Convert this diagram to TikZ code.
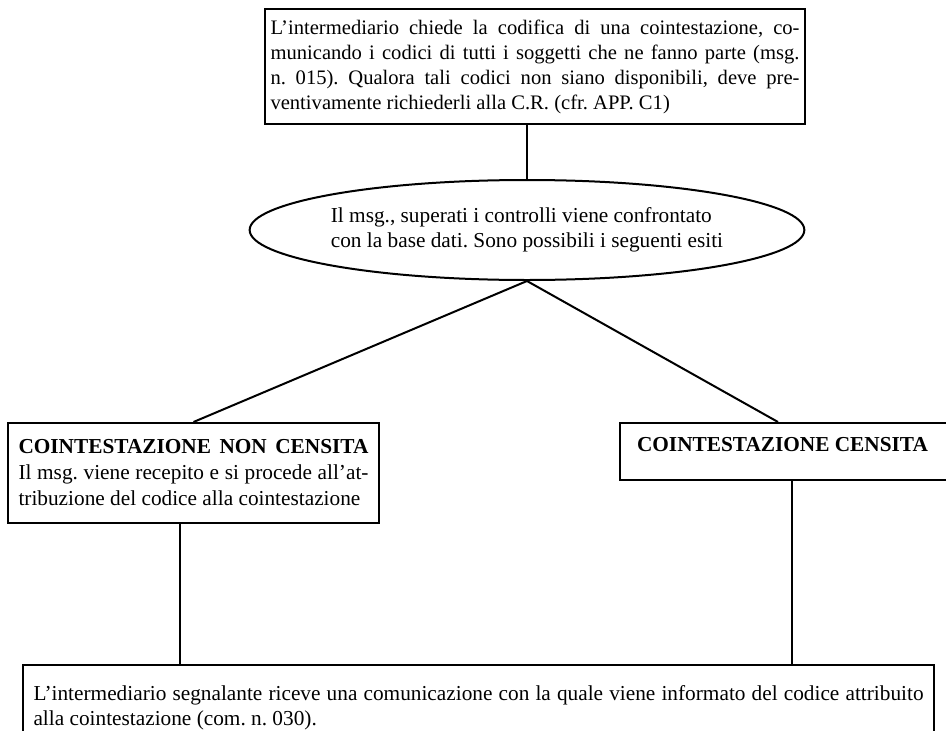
\documentclass[tikz,border=0pt]{standalone}
\usepackage{fontspec}
\setmainfont{Liberation Serif}
\usepackage{xcolor}
\usepackage{tikz}
\usetikzlibrary{shapes.geometric}
\tolerance=9999
\hbadness=10000
\frenchspacing

\tikzset{
  box/.style={rectangle, draw, line width=2pt, align=justify, font=\fontsize{21.3}{25.5}\selectfont},
  esito/.style={ellipse, draw, line width=2pt, align=left, font=\fontsize{21.3}{25.5}\selectfont},
  link/.style={line width=2pt}
}

\begin{document}
\begin{tikzpicture}[x=1pt,y=-1pt]
\path[use as bounding box] (0,0) rectangle (946,731);
\clip (0,0) rectangle (946,731);
\node at (535,66.5) [box, font=\fontsize{20.6}{25}\selectfont, text width=529, inner xsep=5.5, minimum height=115] (richiesta) {L’intermediario chiede la codifica di una cointestazione, co-\linebreak municando i codici di tutti i soggetti che ne fanno parte (msg.\linebreak n. 015). Qualora tali codici non siano disponibili, deve pre-\linebreak ventivamente richiederli alla C.R. (cfr. APP. C1)};
\node at (527,230) [esito, minimum width=470, minimum height=100, inner sep=0] (controllo) {Il msg., superati i controlli viene confrontato\\con la base dati. Sono possibili i seguenti esiti};
\node at (193.5,473) [box, font=\fontsize{21.3}{26}\selectfont, text width=350, inner xsep=10.5, minimum height=100] (noncensita) {\textbf{COINTESTAZIONE NON CENSITA}\linebreak Il msg. viene recepito e si procede all’at-\linebreak tribuzione del codice alla cointestazione};
\node at (785,451.5) [box, align=center, minimum width=330, minimum height=57, text depth=15] (censita) {\hspace*{-5pt}\textbf{COINTESTAZIONE CENSITA}};
\node at (478.5,664) [box, anchor=north, font=\fontsize{21.3}{25}\selectfont, text width=890, inner xsep=10.5, inner ysep=20] (comunicazione) {L’intermediario segnalante riceve una comunicazione con la quale viene informato del codice attribuito\linebreak alla cointestazione (com. n. 030).};
\coordinate (gancio1) at ([xshift=-14]noncensita.south);
\coordinate (gancio2) at ([xshift=7]censita.south);
\coordinate (aggancio) at ([xshift=-7]censita.north);
\draw[link] (controllo.north) -- (controllo.north |- richiesta.south);
\draw[link] (controllo.south) -- (noncensita.north);
\draw[link] (controllo.south) -- (aggancio);
\draw[link] (gancio1) -- (gancio1 |- comunicazione.north);
\draw[link] (gancio2) -- (gancio2 |- comunicazione.north);
\end{tikzpicture}
\end{document}
